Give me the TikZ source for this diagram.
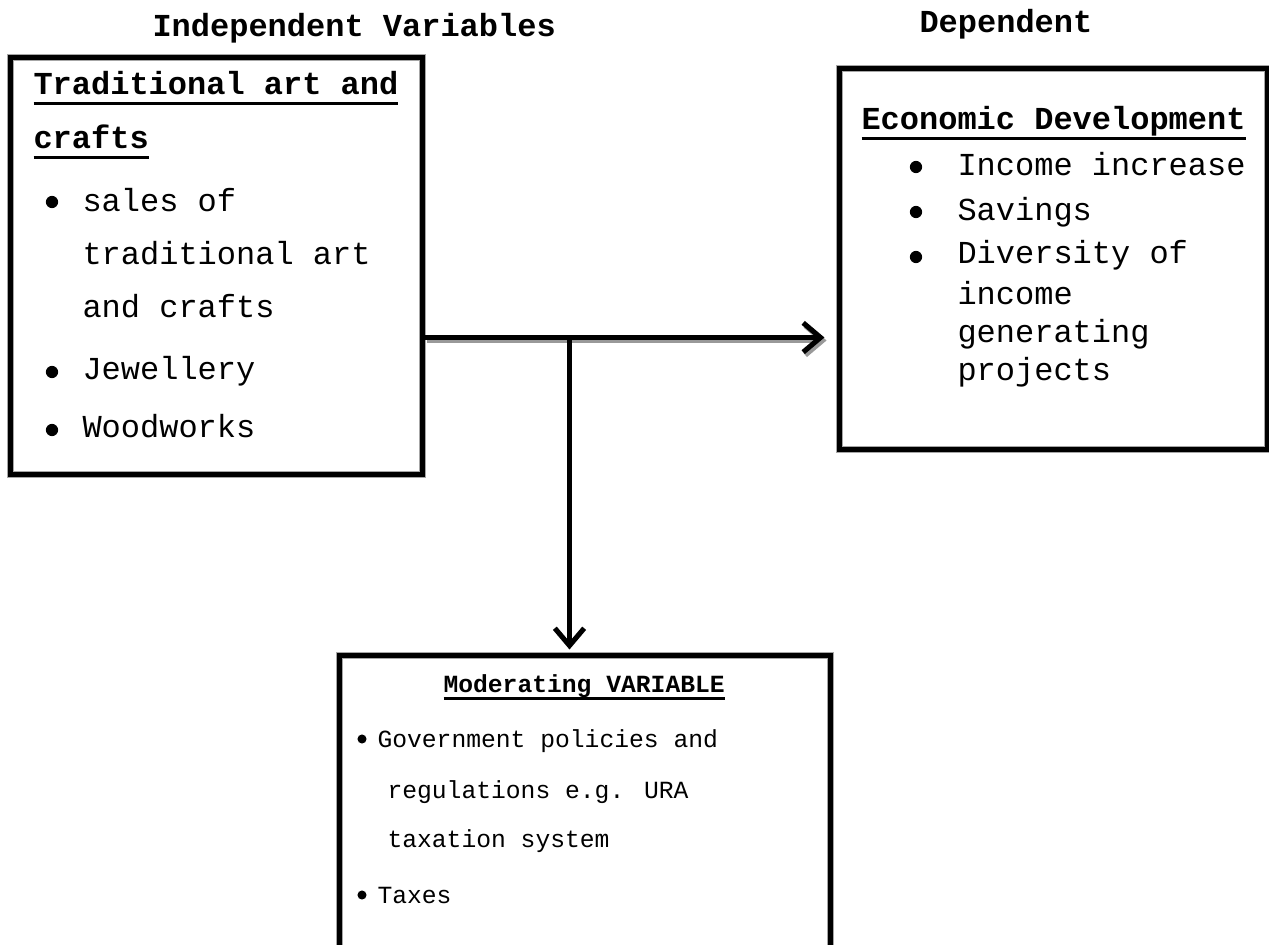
\documentclass[tikz,border=0pt]{standalone}
\usepackage{fontspec}
\setmainfont{Liberation Mono}
\usetikzlibrary{arrows.meta,fit}
\newsavebox\ulbox
\newcommand\thul[3]{\sbox\ulbox{#3}\rlap{\rule[-#1]{\wd\ulbox}{#2}}\usebox\ulbox}
\tikzset{
  box/.style={draw, line width=1.9pt, inner sep=0pt,
    preaction={draw=black!35, line width=2.5pt}},
  big/.style={anchor=base west, inner sep=0pt, font=\fontsize{12}{14}\selectfont},
  small/.style={anchor=base west, inner sep=0pt, font=\fontsize{9.25}{11}\selectfont},
  bul/.style={circle, fill=black, inner sep=0pt, minimum size=4.6pt},
  sbul/.style={circle, fill=black, inner sep=0pt, minimum size=3.4pt},
  conn/.style={line width=1.9pt, -{Straight Barb[length=6.5pt,width=11pt]}},
  shade/.style={conn, draw=black!40, transform canvas={shift={(0.8pt,-1.1pt)}}}
}
\begin{document}
\begin{tikzpicture}[x=0.375pt, y=-0.375pt]
\useasboundingbox (0,0) rectangle (1269,945);
\clip (0,0) rectangle (1269,945);
\fill[white] (0,0) rectangle (1269,945);

% headers
\node[big, font=\fontsize{12}{14}\selectfont\bfseries] (hdrI) at (152,37) {Independent Variables};
\node[big, font=\fontsize{12}{14}\selectfont\bfseries] (hdrD) at (919,33) {Dependent};

% boxes
\node[box, fit={(10.8,57.5) (422.5,474.5)}] (L) {};
\node[box, fit={(839.5,68.5) (1267.5,449.5)}] (R) {};
\node[box, fit={(339.5,655.5) (830.5,1000)}] (M) {};

% left box text
\node[big, font=\fontsize{12}{14}\selectfont\bfseries] (l0) at (33,95) {\thul{3.6pt}{1.15pt}{Traditional art and}};
\node[big, font=\fontsize{12}{14}\selectfont\bfseries] (l0b) at (33,149) {\thul{3.6pt}{1.15pt}{crafts}};
\node[bul] (lb1) at (52,202) {};
\node[bul] (lb2) at (52,372) {};
\node[bul] (lb3) at (52,430) {};
\node[big] (l1) at (82,212) {sales of};
\node[big] (l2) at (82,265) {traditional art};
\node[big] (l3) at (82,318) {and crafts};
\node[big] (l4) at (82,380) {Jewellery};
\node[big] (l5) at (82,438) {Woodworks};

% right box text
\node[big, font=\fontsize{12}{14}\selectfont\bfseries] (r0) at (861,130) {\thul{3.6pt}{1.15pt}{Economic Development}};
\node[bul] (rb1) at (916,167) {};
\node[bul] (rb2) at (916,212) {};
\node[bul] (rb3) at (916,257) {};
\node[big] (r1) at (957,176) {Income increase};
\node[big] (r2) at (957,221) {Savings};
\node[big] (r3) at (957,264) {Diversity of};
\node[big] (r4) at (957,304) {income};
\node[big] (r5) at (957,343) {generating};
\node[big] (r6) at (957,381) {projects};

% bottom box text
\node[small, font=\fontsize{9.25}{11}\selectfont\bfseries] (m0) at (443,692) {\thul{2.9pt}{1pt}{Moderating VARIABLE}};
\node[sbul] (mb1) at (362,739) {};
\node[sbul] (mb2) at (362,895) {};
\node[small] (m1) at (377,747) {Government policies and};
\node[small] (m2) at (387,798) {regulations e.g. URA};
\node[small] (m3) at (387,847) {taxation system};
\node[small] (m4) at (377,903) {Taxes};

% connectors
\coordinate (j) at (569.5,337.5);
\draw[shade, shorten >=4.7pt] (L.east |- j) -- (R.west |- j);
\draw[conn, shorten >=4.7pt] (L.east |- j) -- (R.west |- j);
\draw[conn, shorten >=1.3pt] (j) -- (j |- M.north);
\end{tikzpicture}
\end{document}
